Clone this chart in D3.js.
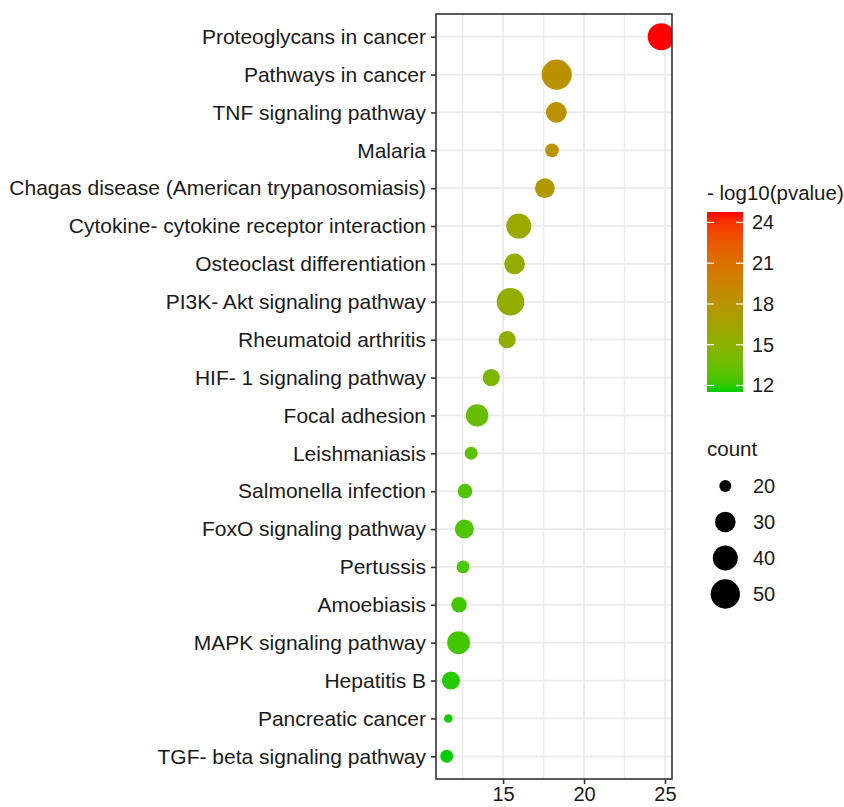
<!DOCTYPE html>
<html>
<head>
<meta charset="utf-8">
<script src="https://cdn.jsdelivr.net/npm/d3@7"></script>
<style>
  html, body { margin: 0; padding: 0; background: #fff; }
  svg { display: block; font-family: "Liberation Sans", Arial, sans-serif; }
</style>
</head>
<body>
<svg id="chart" width="844" height="807"></svg>
<script>
// KEGG pathway enrichment: one row per pathway, top to bottom
const pathways = [
  "Proteoglycans in cancer",
  "Pathways in cancer",
  "TNF signaling pathway",
  "Malaria",
  "Chagas disease (American trypanosomiasis)",
  "Cytokine- cytokine receptor interaction",
  "Osteoclast differentiation",
  "PI3K- Akt signaling pathway",
  "Rheumatoid arthritis",
  "HIF- 1 signaling pathway",
  "Focal adhesion",
  "Leishmaniasis",
  "Salmonella infection",
  "FoxO signaling pathway",
  "Pertussis",
  "Amoebiasis",
  "MAPK signaling pathway",
  "Hepatitis B",
  "Pancreatic cancer",
  "TGF- beta signaling pathway"
];
// -log10(pvalue): horizontal position and colour
const negLogP = [24.77, 18.31, 18.29, 18.02, 17.58, 15.97, 15.71, 15.46, 15.25, 14.27,
                 13.40, 13.03, 12.65, 12.61, 12.53, 12.28, 12.25, 11.78, 11.62, 11.52];
// number of genes in each pathway: point size
const geneCount = [45, 52, 30, 22, 29, 40, 30, 46, 26, 26,
                   34, 21, 23, 28, 21, 24, 35, 27, 16, 21];

const xTicks = [15, 20, 25];
const xMinorTicks = [12.5, 17.5, 22.5];
const colorTicks = [12, 15, 18, 21, 24];
const sizeBreaks = [20, 30, 40, 50];

const svg = d3.select("#chart");
const panel = { left: 436, right: 672, top: 14, bottom: 779 };
const textColor = "#1a1a1a";

// continuous x with 5% padding on each side of the data range
const [lo, hi] = d3.extent(negLogP);
const pad = (hi - lo) * 0.05;
const x = d3.scaleLinear().domain([lo - pad, hi + pad]).range([panel.left, panel.right]);

// discrete y with 0.6 band of padding at each end
const y = d3.scalePoint().domain(pathways).range([panel.top, panel.bottom]).padding(0.6);

const color = d3.scaleLinear().domain([lo, hi]).range(["#00CC00", "#FF0000"])
  .interpolate(d3.interpolateLab);
const radius = d3.scaleLinear().domain(sizeBreaks).range([6, 10.35, 12.5, 14.65]);

const rows = pathways.map((name, i) => ({ name, v: negLogP[i], n: geneCount[i] }));

// panel background and grid
const g = svg.append("g");
g.append("rect").attr("x", panel.left).attr("y", panel.top)
  .attr("width", panel.right - panel.left).attr("height", panel.bottom - panel.top)
  .attr("fill", "#fff");

g.selectAll("line.minor").data(xMinorTicks).join("line").attr("class", "minor")
  .attr("x1", d => x(d)).attr("x2", d => x(d))
  .attr("y1", panel.top).attr("y2", panel.bottom)
  .attr("stroke", "#EBEBEB").attr("stroke-width", 1.4);
g.selectAll("line.vmajor").data(xTicks).join("line").attr("class", "vmajor")
  .attr("x1", d => x(d)).attr("x2", d => x(d))
  .attr("y1", panel.top).attr("y2", panel.bottom)
  .attr("stroke", "#EBEBEB").attr("stroke-width", 1.8);
g.selectAll("line.hmajor").data(pathways).join("line").attr("class", "hmajor")
  .attr("x1", panel.left).attr("x2", panel.right)
  .attr("y1", d => y(d)).attr("y2", d => y(d))
  .attr("stroke", "#EBEBEB").attr("stroke-width", 1.8);

// points, clipped to the panel
svg.append("defs").append("clipPath").attr("id", "panel-clip")
  .append("rect").attr("x", panel.left).attr("y", panel.top)
  .attr("width", panel.right - panel.left).attr("height", panel.bottom - panel.top);

g.append("g").attr("clip-path", "url(#panel-clip)")
  .selectAll("circle").data(rows).join("circle")
  .attr("cx", d => x(d.v)).attr("cy", d => y(d.name))
  .attr("r", d => radius(d.n))
  .attr("fill", d => color(d.v));

// panel border
g.append("rect").attr("x", panel.left).attr("y", panel.top)
  .attr("width", panel.right - panel.left).attr("height", panel.bottom - panel.top)
  .attr("fill", "none").attr("stroke", "#333333").attr("stroke-width", 1.6);

// axes
const yAxis = g.append("g").attr("transform", `translate(${panel.left},0)`)
  .call(d3.axisLeft(y).tickSize(5).tickPadding(5));
const xAxis = g.append("g").attr("transform", `translate(0,${panel.bottom})`)
  .call(d3.axisBottom(x).tickValues(xTicks).tickSize(5).tickPadding(3));
[yAxis, xAxis].forEach(a => {
  a.select(".domain").remove();
  a.selectAll(".tick line").attr("stroke", "#333333").attr("stroke-width", 1.6);
  a.selectAll("text").attr("fill", textColor)
    .attr("font-family", "Liberation Sans, Arial, sans-serif");
});
yAxis.selectAll("text").attr("font-size", 21);
xAxis.selectAll("text").attr("font-size", 20);

// colour legend
const cb = { x: 707, y0: 212, y1: 392, w: 36 };
const cy = d3.scaleLinear().domain([lo, hi]).range([cb.y1, cb.y0]);
const grad = svg.select("defs").append("linearGradient").attr("id", "cbar")
  .attr("x1", 0).attr("y1", 1).attr("x2", 0).attr("y2", 0);
d3.range(0, 1.0001, 0.05).forEach(t => {
  grad.append("stop").attr("offset", t).attr("stop-color", color(lo + t * (hi - lo)));
});
const leg = svg.append("g");
leg.append("text").attr("x", cb.x).attr("y", 200).attr("font-size", 20.5)
  .attr("fill", textColor).text("- log10(pvalue)");
leg.append("rect").attr("x", cb.x).attr("y", cb.y0).attr("width", cb.w)
  .attr("height", cb.y1 - cb.y0).attr("fill", "url(#cbar)");
colorTicks.forEach(t => {
  [[cb.x, cb.x + 7], [cb.x + cb.w - 7, cb.x + cb.w]].forEach(([a, b]) => {
    leg.append("line").attr("x1", a).attr("x2", b).attr("y1", cy(t)).attr("y2", cy(t))
      .attr("stroke", "#fff").attr("stroke-width", 1.2);
  });
  leg.append("text").attr("x", 752).attr("y", cy(t)).attr("dy", "0.35em")
    .attr("font-size", 20).attr("fill", textColor).text(t);
});

// size legend
const sizeY = d3.scalePoint().domain(sizeBreaks).range([486, 594]);
leg.append("text").attr("x", cb.x).attr("y", 456).attr("font-size", 20.5)
  .attr("fill", textColor).text("count");
leg.selectAll("circle.key").data(sizeBreaks).join("circle").attr("class", "key")
  .attr("cx", 725.3).attr("cy", d => sizeY(d)).attr("r", d => radius(d)).attr("fill", "#000");
leg.selectAll("text.key").data(sizeBreaks).join("text").attr("class", "key")
  .attr("x", 753).attr("y", d => sizeY(d)).attr("dy", "0.35em")
  .attr("font-size", 20).attr("fill", textColor).text(d => d);
</script>
</body>
</html>
